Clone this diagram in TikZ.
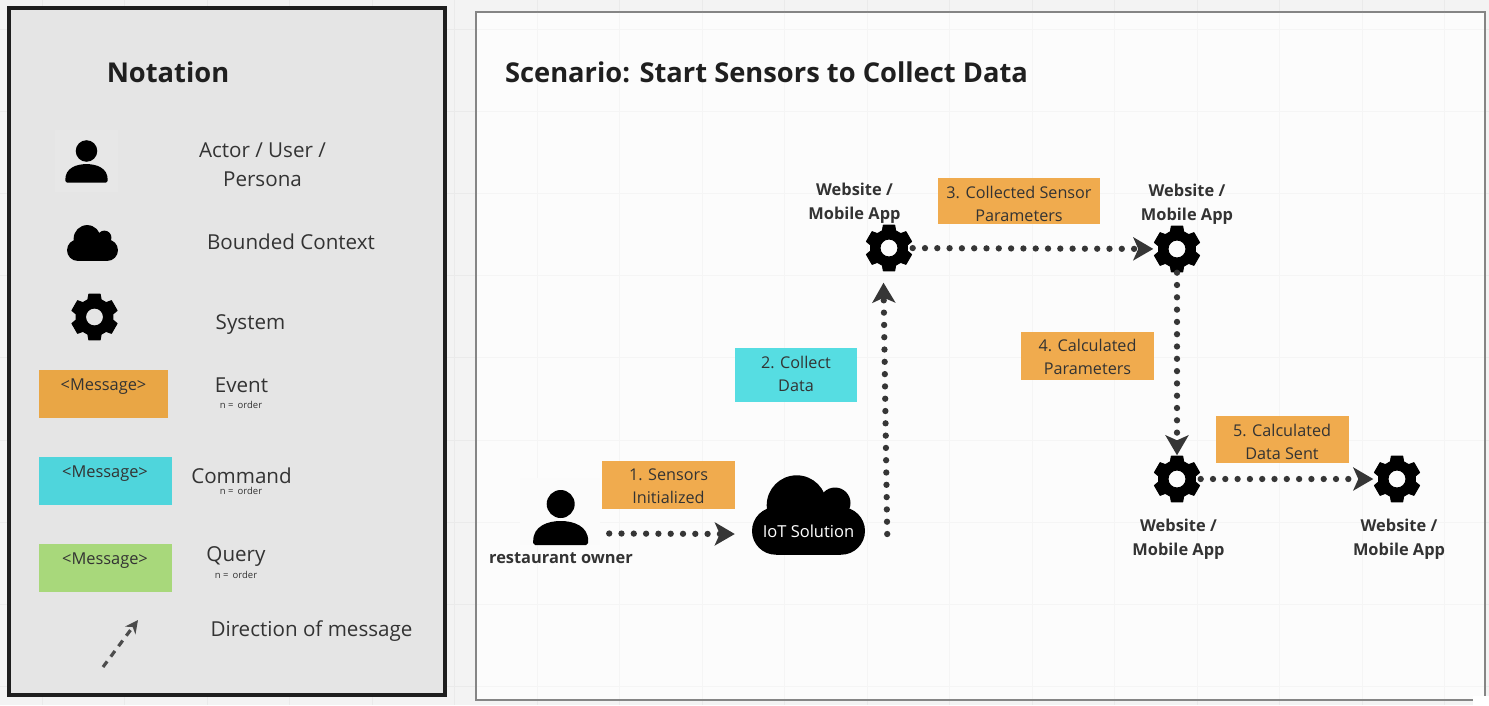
\documentclass[tikz,border=0pt]{standalone}
\usepackage{fontspec}
\setmainfont{Open Sans}
\usetikzlibrary{arrows.meta}
\definecolor{figPage}{HTML}{F3F3F3}
\definecolor{figGrid}{HTML}{EAEAEA}
\definecolor{figGridIn}{HTML}{F5F5F5}
\definecolor{figSide}{HTML}{E5E5E5}
\definecolor{figSheet}{HTML}{FCFCFC}
\definecolor{figFrame}{HTML}{1E1E1E}
\definecolor{figEdge}{HTML}{858585}
\definecolor{figText}{HTML}{333333}
\definecolor{figDot}{HTML}{363636}
\definecolor{figOrange}{HTML}{E9A645}
\definecolor{figCyan}{HTML}{4FD5DC}
\definecolor{figGreen}{HTML}{A8D87B}
\definecolor{figOrangeB}{HTML}{F0AB4E}
\definecolor{figCyanB}{HTML}{56DDE2}

\begin{document}
\begin{tikzpicture}[x=1pt,y=-1pt,>={Stealth[length=20pt,width=23pt,inset=5pt]},
  every node/.style={inner sep=0pt,text=figText},
  msg/.style={fill=#1,minimum width=133pt,minimum height=48pt},
  steptext/.style={align=center,font=\fontsize{16.2}{23}\selectfont},
  msgtext/.style={font=\fontsize{16.4}{20}\selectfont},
  legtext/.style={align=center,font=\fontsize{20.6}{29}\selectfont},
  small/.style={font=\fontsize{9.5}{11}\selectfont},
  strong/.style={align=center,font=\fontsize{16.4}{23.5}\selectfont\bfseries},
  head/.style={font=\fontsize{27.3}{34}\selectfont\bfseries,text=black!88},
  flow/.style={->,figDot,line width=6.3pt,line cap=round,dash pattern=on 0pt off 12.3pt},
  gearbox/.style={minimum width=47pt,minimum height=47pt},
  pics/gearicon/.style={code={
    \filldraw[black,line width=1pt,line join=round,even odd rule] (90-14:23.5) \foreach \a in {90,150,...,390}{
      -- (\a-14:23.5) -- (\a+14:23.5) -- (\a+21:18.5) -- (\a+39:18.5)} -- cycle
      (0,0) circle (9);}},
  pics/personicon/.style={code={
    \fill[black] (0,-13) circle (14);
    \fill[black] (-27.5,24) .. controls (-27.5,9) and (-13,4) .. (0,4)
      .. controls (13,4) and (27.5,9) .. (27.5,24) -- (27.5,26) -- (25.5,28)
      -- (-25.5,28) -- (-27.5,26) -- cycle;}},
  pics/cloudicon/.style={code={
    \fill[black] (-32.7,15.9) circle (23.8);
    \fill[black] (32.7,15.9) circle (23.8);
    \fill[black] (-32.7,-7.9) rectangle (32.7,39.7);
    \fill[black] (-11.8,-9.7) circle (30);
    \fill[black] (26.5,-12) circle (15.5);
    \fill[black] (-11.8,-12) rectangle (26.5,0);}}]
\useasboundingbox (0,0) rectangle (1489,705);
% Page and grid
\fill[figPage] (0,0) rectangle (1489,705);
\foreach \x in {42,124.5,...,1489} \draw[figGrid,line width=1pt] (\x,0) -- (\x,705);
\foreach \y in {29,111.2,...,705} \draw[figGrid,line width=1pt] (0,\y) -- (1489,\y);
% Notation panel
\draw[figFrame,fill=figSide,line width=4pt] (9,7.5) rectangle (445,695);
\node[head] (notationT) at (168,72) {Notation};
\node[fill=black!9.5,minimum width=63pt,minimum height=62pt] (legP) at (86.5,161) {};
\pic[scale=.77] at (legP) {personicon};
\node[legtext] (legPT) at (262.5,165) {Actor / User /\\Persona};
\node[minimum width=51pt,minimum height=36pt] (legC) at (92.5,243) {};
\pic[scale=.451] at (legC) {cloudicon};
\node[legtext] (legCT) at (291,242) {Bounded Context};
\node[gearbox] (legG) at (94.5,317) {};
\pic at (legG) {gearicon};
\node[legtext] (legGT) at (250.5,325) {System};
\node[msg=figOrange,minimum width=129pt] (legE) at (103.5,394) {};
\node[msgtext] (legEM) at (103.5,386.5) {<Message>};
\node[legtext] (legET) at (241.5,385) {Event};
\node[small] (legEN) at (241,405) {n =\, order};
\node[msg=figCyan] (legK) at (105.5,481) {};
\node[msgtext] (legKM) at (105,473.5) {<Message>};
\node[legtext] (legKT) at (241.5,476) {Command};
\node[small] (legKN) at (241,491) {n =\, order};
\node[msg=figGreen] (legQ) at (105.5,568) {};
\node[msgtext] (legQM) at (105,560.5) {<Message>};
\node[legtext] (legQT) at (236,556) {Query};
\node[small] (legQN) at (236,575) {n =\, order};
\coordinate (legA1) at (103,667);
\coordinate (legA2) at (138,620);
\draw[-{Stealth[length=13pt,width=13pt]},black!70,line width=3.2pt,dash pattern=on 7pt off 6pt] (legA1) -- (legA2);
\node[legtext] (legAT) at (311.5,631) {Direction of message};
% Scenario panel
\draw[figEdge,fill=figSheet,line width=2pt] (476,11.5) rectangle (1484.5,700);
\foreach \x in {537,619.5,...,1480} \draw[figGridIn,line width=1pt] (\x,12.5) -- (\x,699);
\foreach \y in {29,111.2,...,699} \draw[figGridIn,line width=1pt] (477,\y) -- (1483.5,\y);
\fill[white] (1473,696) rectangle (1489,705);
\node[head] (scenT) at (766.5,72) {Scenario: Start Sensors to Collect Data};
% Messages
\node[msg=figOrangeB] (M1) at (668.5,485) {};
\node[steptext] (M1T) at (668.5,486.5) {1. Sensors\\Initialized};
\node[msg=figCyanB,minimum width=122pt,minimum height=54pt] (M2) at (796,375) {};
\node[steptext] (M2T) at (796,374) {2. Collect\\Data};
\node[msg=figOrangeB,minimum width=162pt,minimum height=46pt] (M3) at (1019,201) {};
\node[steptext] (M3T) at (1019,204) {3. Collected Sensor\\Parameters};
\node[msg=figOrangeB] (M4) at (1087.5,355.5) {};
\node[steptext] (M4T) at (1087.5,356.5) {4. Calculated\\Parameters};
\node[msg=figOrangeB,minimum height=47pt] (M5) at (1282,439.5) {};
\node[steptext] (M5T) at (1282,441.5) {5. Calculated\\Data Sent};
% Actor, context and systems
\node[fill=black!1.5,minimum width=80pt,minimum height=67pt] (P) at (560,511.5) {};
\pic at (560.7,517) {personicon};
\node[strong] (PT) at (561,558) {restaurant owner};
\node[minimum width=113pt,minimum height=80pt] (C) at (808.5,515) {};
\pic at (C) {cloudicon};
\node[text=white,font=\fontsize{16.5}{20}\selectfont] (CT) at (808.5,531) {IoT Solution};
\node[gearbox] (G1) at (889,248) {};
\node[gearbox] (G2) at (1177,249) {};
\node[gearbox] (G3) at (1177,479) {};
\node[gearbox] (G4) at (1397,479) {};
\foreach \g in {G1,G2,G3,G4} \pic at (\g) {gearicon};
\node[strong] (G1T) at (854.5,203) {Website /\\Mobile App};
\node[strong] (G2T) at (1187,204) {Website /\\Mobile App};
\node[strong] (G3T) at (1178.5,539) {Website /\\Mobile App};
\node[strong] (G4T) at (1399,539) {Website /\\Mobile App};
% Message flow
\coordinate (Pout) at ([xshift=9pt,yshift=-22pt]P.east);
\coordinate (Cin) at ([xshift=-17pt,yshift=-19pt]C.west);
\coordinate (Cout) at ([xshift=22pt,yshift=-19pt]C.east);
\coordinate (G1in) at ([xshift=-5.5pt,yshift=-11pt]G1.south);
\draw[flow] (Pout) -- (Cin);
\draw[flow] (Cout) -- (G1in);
\draw[flow] (G1) -- (G2);
\draw[flow] (G2) -- (G3);
\draw[flow] (G3) -- (G4);
\end{tikzpicture}
\end{document}
